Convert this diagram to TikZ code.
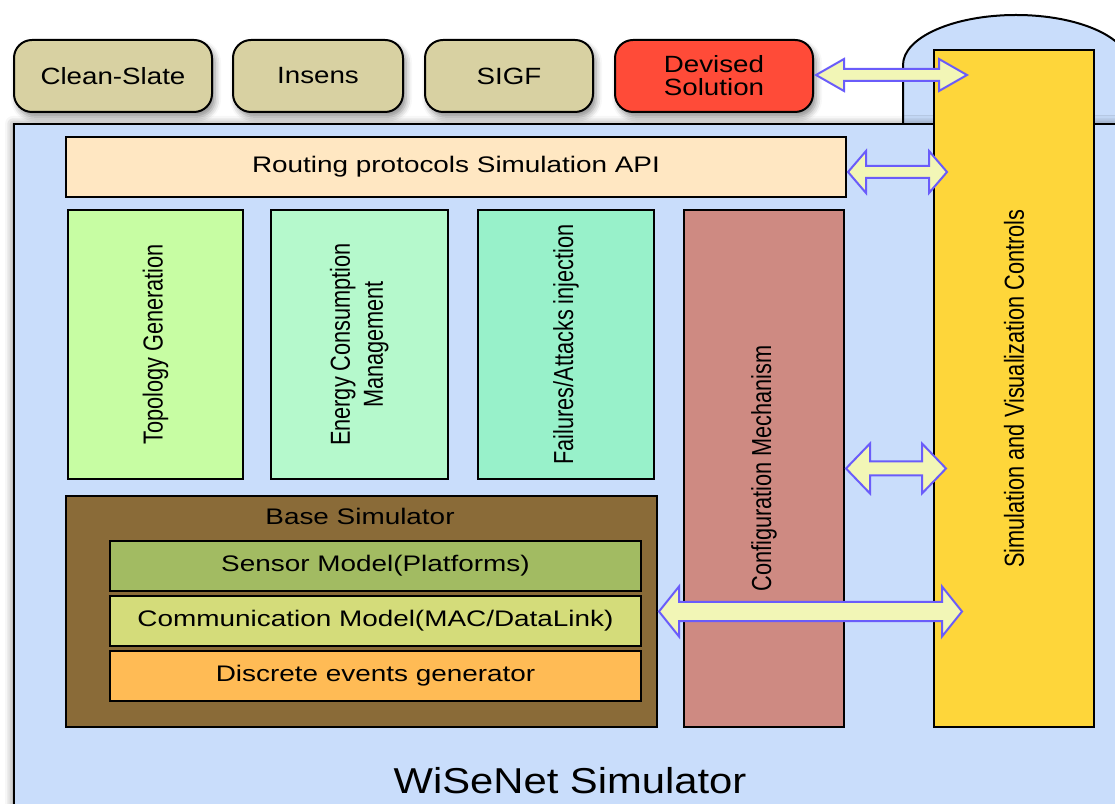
\documentclass[tikz,border=0pt]{standalone}
\usepackage{fontspec}
\usepackage{graphicx}
\setmainfont{Liberation Sans}
\newfontfamily\hfont[FakeStretch=1.24]{Liberation Sans}
\newfontfamily\topfont[FakeStretch=1.18]{Liberation Sans}
\newfontfamily\vfont[FakeStretch=0.79]{Liberation Sans}
\newfontfamily\bigfont[FakeStretch=1.16]{Liberation Sans}
\usetikzlibrary{calc,shadows.blur}

\definecolor{khaki}{HTML}{D8D1A2}
\definecolor{devred}{HTML}{FF4B38}
\definecolor{panelblue}{HTML}{C9DDFB}
\definecolor{peach}{HTML}{FFE7C2}
\definecolor{topogreen}{HTML}{C7FDA3}
\definecolor{energygreen}{HTML}{B5F9CC}
\definecolor{failgreen}{HTML}{98F1CA}
\definecolor{configpink}{HTML}{CE8A82}
\definecolor{ctrlyellow}{HTML}{FED63A}
\definecolor{basebrown}{HTML}{8A6B38}
\definecolor{sensorgreen}{HTML}{A2BB62}
\definecolor{commgreen}{HTML}{D4DC7A}
\definecolor{discorange}{HTML}{FFBB55}
\definecolor{arrowfill}{HTML}{F2F6B6}
\definecolor{arrowline}{HTML}{6A5CFA}

\tikzset{
  box/.style={draw=black, line width=2pt, rectangle, inner sep=0pt, align=center},
  topbox/.style={box, rounded corners=18pt, minimum height=72pt,
    font=\topfont\fontsize{23.5}{27}\selectfont,
    blur shadow={shadow xshift=3pt, shadow yshift=-5pt, shadow blur radius=6pt, shadow opacity=45}},
  hbox/.style={box, font=\hfont\fontsize{22.5}{27}\selectfont},
  vbox/.style={box, font=\vfont\fontsize{27.5}{34}\selectfont},
  linkarrow/.style={draw=arrowline, fill=arrowfill, line width=2pt, line join=miter},
}

% double-headed block arrow: start, end, shaft half-width, head half-width, head length
\newcommand\dblarrow[5]{%
  \draw[linkarrow] let \p1=(#1), \p2=(#2) in
    (\x1,\y1) -- (\x1+#5,\y1+#4) -- (\x1+#5,\y1+#3) -- (\x2-#5,\y1+#3)
    -- (\x2-#5,\y1+#4) -- (\x2,\y1) -- (\x2-#5,\y1-#4) -- (\x2-#5,\y1-#3)
    -- (\x1+#5,\y1-#3) -- (\x1+#5,\y1-#4) -- cycle;}

\begin{document}
\begin{tikzpicture}[x=1pt, y=1pt]
\useasboundingbox (0,0) rectangle (1115,803);
\clip (0,0) rectangle (1115,803);

% rounded tab behind the simulator panel
\draw[fill=panelblue, line width=2pt] (903,679) -- (903,738)
  arc[start angle=180, end angle=0, x radius=113, y radius=50] -- (1129,679);

% simulator panel
\path[blur shadow={shadow xshift=-1pt, shadow yshift=0pt, shadow blur radius=8pt, shadow opacity=50}]
  (14,-20) rectangle (1140,679);
\draw[fill=panelblue, line width=2pt] (14,-20) rectangle (1140,679);
\node[font=\bigfont\fontsize{36}{40}\selectfont, anchor=base] (wisenet) at (570,10) {WiSeNet Simulator};

% control column
\node[vbox, fill=ctrlyellow, minimum width=160, minimum height=677] (ctrl) at (1014,414.5)
  {\rotatebox{90}{Simulation and Visualization Controls}};

% API bar
\node[hbox, fill=peach, minimum width=780, minimum height=60] (routing) at (456,636)
  {Routing protocols Simulation API};

% module columns
\node[vbox, fill=topogreen, minimum width=175, minimum height=269] (topo) at (155.5,458.5)
  {\rotatebox{90}{Topology Generation}};
\node[vbox, fill=energygreen, minimum width=177, minimum height=269] (energy) at (359.5,458.5)
  {\rotatebox{90}{\begin{tabular}{@{}c@{}}Energy Consumption\\[-1pt]Management\end{tabular}}};
\node[vbox, fill=failgreen, minimum width=176, minimum height=269] (fail) at (566,458.5)
  {\rotatebox{90}{Failures/Attacks injection}};
\node[vbox, fill=configpink, minimum width=160, minimum height=517] (config) at (764,334.5)
  {\rotatebox{90}{Configuration Mechanism}};

% base simulator stack
\node[box, fill=basebrown, minimum width=591, minimum height=231] (base) at (361.5,191.5) {};
\node[font=\hfont\fontsize{22.5}{27}\selectfont] (basetitle) at (360,287) {Base Simulator};
\node[hbox, fill=sensorgreen, minimum width=531, minimum height=50] (sensor) at (375.5,237)
  {Sensor Model(Platforms)};
\node[hbox, fill=commgreen, minimum width=531, minimum height=50] (comm) at (375.5,182)
  {Communication Model(MAC/DataLink)};
\node[hbox, fill=discorange, minimum width=531, minimum height=50] (disc) at (375.5,127)
  {Discrete events generator};

% protocol boxes
\node[topbox, fill=khaki, minimum width=198] (clean) at (113,727) {Clean-Slate};
\node[topbox, fill=khaki, minimum width=170] (insens) at (318,727) {Insens};
\node[topbox, fill=khaki, minimum width=168] (sigf) at (509,727) {SIGF};
\node[topbox, fill=devred, minimum width=198] (devised) at (714,727)
  {Devised\\[-4pt]Solution};

% links to the control column
\coordinate (tip1) at ($(devised.east -| ctrl.west)+(34,1)$);
\coordinate (tip2) at ($(routing.east -| ctrl.west)+(14,-5)$);
\coordinate (tip3) at ($(config.east -| ctrl.west)+(13,0)$);
\coordinate (tip4) at ($(base.east -| ctrl.west)+(29,0)$);
\dblarrow{$(devised.east)+(2,1)$}{tip1}{6pt}{16pt}{28pt}
\dblarrow{$(routing.east)+(1,-5)$}{tip2}{6pt}{21pt}{18pt}
\dblarrow{$(config.east)+(1,0)$}{tip3}{7pt}{25pt}{24pt}
\dblarrow{$(base.east)+(1,0)$}{tip4}{9.5pt}{25pt}{20pt}
\end{tikzpicture}
\end{document}
